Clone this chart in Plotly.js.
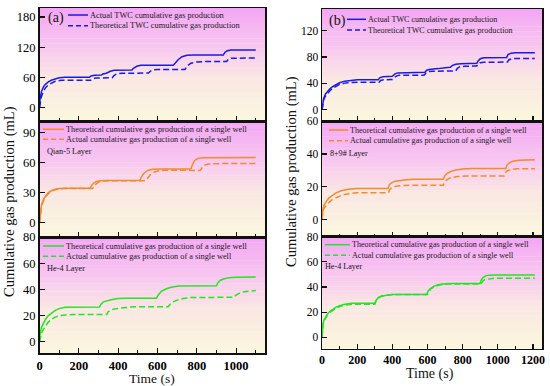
<!DOCTYPE html>
<html><head><meta charset="utf-8">
<script src="https://cdn.plot.ly/plotly-3.0.1.min.js"></script>
<style>html,body{margin:0;padding:0;background:#fff}#chart{width:550px;height:386px}</style>
</head><body><div id="chart"></div>
<script>
// ---------- DATA ----------
// (a) top: TWC
const tA_actualTWC = [0,3,10,20,30,45,60,80,100,130,255,262,280,315,322,340,360,380,470,478,495,515,680,690,705,725,750,780,935,943,955,975,1100];
const vA_actualTWC = [0,18,32,41,46,51,54,57,59,60,60,62.5,64,64.5,66.5,68,72,74,74.5,78,82,84,84,88,95,101,104,104.5,104.5,109.5,113,114.5,114.5];
const tA_theoTWC = [0,3,10,20,30,45,60,80,110,260,268,285,370,380,395,420,555,565,580,600,740,750,770,800,830,952,960,975,1100];
const vA_theoTWC = [0,10,22,32,39,45,48.5,52,54,54,57,58.5,59,64,67,68,68.5,72.5,75,75.5,75.5,82,88,90.5,91.2,91.5,96,98,98.5];
// (a) middle: Qian-5 Layer
const tA_q5Theo = [0,3,10,20,30,45,60,80,100,130,258,265,275,290,310,340,510,518,530,550,575,610,770,778,790,805,830,1100];
const vA_q5Theo = [0,8,17.5,23,26.5,30,31.8,33.3,34,34.3,34.3,37,39.5,41,41.8,42,42,45.5,49,52,53.3,53.5,53.5,58,62,64,64.8,65];
const tA_q5Act = [0,3,10,20,30,45,60,80,100,130,270,278,290,305,325,350,540,550,565,585,605,640,760,790,818,828,842,860,890,1100];
const vA_q5Act = [0,7,16,22,25.5,29,31.2,32.8,33.6,34,34,36.5,39,40.8,41.6,41.8,41.8,44.5,48,50.5,51.8,52.3,52.3,52,52,55,57.5,58.5,58.8,59];
// (a) bottom: He-4 Layer
const tA_h4Theo = [0,3,10,20,30,45,60,80,100,130,305,312,325,345,370,400,440,595,603,620,645,675,710,900,907,920,940,965,1000,1100];
const vA_h4Theo = [0,6,11,14.5,17,20,22,24,25.3,26.3,26.5,28.5,30.5,31.5,32.3,33,33.2,33.2,35.5,38.5,40.5,41.8,42.6,42.7,45,47,48.2,49,49.3,49.4];
const tA_h4Act = [0,3,10,20,30,45,60,80,100,130,170,342,350,365,390,420,460,520,655,663,680,700,730,770,990,998,1015,1040,1070,1100];
const vA_h4Act = [0,3,6.5,9.5,12,15,17,18.8,19.8,20.5,20.8,20.8,23,24.5,25.3,26,26.5,26.8,26.8,28.5,30.5,31.8,33,33.8,34,35.5,37,38.2,38.9,39.2];

// (b) top: TWC
const tB_actualTWC = [0,3,9,20,30,45,60,80,100,130,160,200,320,328,345,380,400,415,430,585,595,610,640,660,700,730,740,760,790,880,888,900,920,1050,1058,1075,1100,1210];
const vB_actualTWC = [0,10,17,24,28,32,35,38.5,41,43.5,44.5,45.5,45.5,48.5,50,50.5,51,54.5,56,57,60,61,61.5,62.5,64,64.5,67,69,70,70.5,74,77.5,79,79.5,84,86,86.5,86.5];
const tB_theoTWC = [0,3,9,20,30,45,60,80,100,130,170,200,325,333,350,400,410,425,440,580,590,605,630,760,770,785,810,880,888,900,920,1055,1063,1080,1100,1210];
const vB_theoTWC = [0,9,15,21,25,29,32.5,36,38.5,40.5,41.5,42,42,44.5,45.5,46,49,51.5,52.5,52.5,55.5,58,58.5,59,63,65.5,66,66.5,69.5,71.5,72,72.5,76,77.5,78,78];
// (b) middle: 8+9# Layer
const tB_89Theo = [0,2,6,12,19,30,40,60,80,110,150,200,375,382,395,415,440,480,520,690,697,710,730,760,800,850,1045,1052,1065,1085,1120,1160,1210];
const vB_89Theo = [0,4,7,8.8,10.2,12,13.2,15,16.3,17.6,18.5,19,19,21,22.4,23.3,23.8,24.3,24.6,24.6,26.5,28,29.2,30.2,30.8,31.1,31.1,33.2,34.6,35.5,36.2,36.5,36.5];
const tB_89Act = [0,2,6,12,19,30,40,60,80,110,150,200,378,385,398,420,450,500,690,697,712,735,770,820,1035,1042,1055,1075,1110,1210];
const vB_89Act = [0,3,5.5,7,8,9.5,10.5,12.3,13.5,14.8,15.8,16.3,16.4,18.3,19.5,20.3,20.7,20.9,20.9,22.8,24.5,25.6,26.2,26.5,26.5,28.5,29.8,30.5,30.9,31];
// (b) bottom: He-4 Layer
const tB_h4Theo = [0,2,6,12,20,30,45,60,80,100,130,170,300,308,320,340,370,400,595,602,615,635,660,700,740,898,905,915,930,950,980,1210];
const vB_h4Theo = [0,7,11,14,16.5,18.5,20.7,22.3,24,25.2,26.3,27,27,29.5,31.5,32.8,33.6,34,34,36.5,38.5,40.5,41.8,42.6,42.8,42.8,45.5,47.5,48.8,49.4,49.6,49.6];
const tB_h4Act = [0,2,6,12,20,30,45,60,80,100,130,170,300,308,320,340,370,400,598,606,618,630,650,680,720,905,913,925,945,970,1000,1210];
const vB_h4Act = [0,6,10,13,15.5,17.5,19.8,21.5,23.3,24.5,25.6,26.3,26.3,29,31.3,32.8,33.6,34,34,35,38.5,39.5,41,42,42.3,42.3,44.5,45.8,46.5,46.8,47,47];

const xTicksA = [0,200,400,600,800,1000];
const xTicksB = [0,200,400,600,800,1000,1200];
const nameActTWC = 'Actual TWC cumulative gas production';
const nameTheoTWC = 'Theoretical TWC cumulative gas production';
const nameTheoWell = 'Theoretical cumulative gas production of a single well';
const nameActWell = 'Actual cumulative gas production of a single well';
const layerLabels = ['Qian-5 Layer','He-4 Layer','8+9# Layer','He-4 Layer'];
const xTitle = 'Time (s)';
const yTitle = 'Cumulative gas production (mL)';

// ---------- STYLE ----------
const W = 550, H = 386;
const PX = v => v / W, PY = v => 1 - v / H;
const BLUE = '#1a1ae6', ORANGE = '#f28a2e', GREEN = '#22e622';
const DASH = '6px,3px';
const SERIF = 'Liberation Serif';

function tr(x, y, name, color, dash, xa, ya) {
  return {x, y, name, type: 'scatter', mode: 'lines', showlegend: false,
    line: {color, width: 1.5, dash: dash ? DASH : 'solid'}, xaxis: xa, yaxis: ya,
    hoverinfo: 'skip'};
}
const data = [
  tr(tA_actualTWC, vA_actualTWC, nameActTWC, BLUE, false, 'x', 'y'),
  tr(tA_theoTWC, vA_theoTWC, nameTheoTWC, BLUE, true, 'x', 'y'),
  tr(tA_q5Theo, vA_q5Theo, nameTheoWell, ORANGE, false, 'x2', 'y2'),
  tr(tA_q5Act, vA_q5Act, nameActWell, ORANGE, true, 'x2', 'y2'),
  tr(tA_h4Theo, vA_h4Theo, nameTheoWell, GREEN, false, 'x3', 'y3'),
  tr(tA_h4Act, vA_h4Act, nameActWell, GREEN, true, 'x3', 'y3'),
  tr(tB_actualTWC, vB_actualTWC, nameActTWC, BLUE, false, 'x4', 'y4'),
  tr(tB_theoTWC, vB_theoTWC, nameTheoTWC, BLUE, true, 'x4', 'y4'),
  tr(tB_89Theo, vB_89Theo, nameTheoWell, ORANGE, false, 'x5', 'y5'),
  tr(tB_89Act, vB_89Act, nameActWell, ORANGE, true, 'x5', 'y5'),
  tr(tB_h4Theo, vB_h4Theo, nameTheoWell, GREEN, false, 'x6', 'y6'),
  tr(tB_h4Act, vB_h4Act, nameActWell, GREEN, true, 'x6', 'y6'),
];

function xax(domain, anchor, range, ticks, labels, fs) {
  return {domain, anchor, range, tickmode: 'array', tickvals: ticks, ticktext: ticks.map(String),
    showticklabels: labels, showgrid: false, zeroline: false, showline: true, linecolor: '#111',
    linewidth: 1.5, mirror: true, ticks: 'inside', ticklen: 5, tickwidth: 1.2, tickcolor: '#111',
    minor: {dtick: 100, tick0: 0, ticks: 'inside', ticklen: 3, tickcolor: '#111', tickwidth: 1},
    tickfont: {family: SERIF, size: fs, color: '#000', weight: 'bold'}, fixedrange: true};
}
function yax(domain, anchor, range, dtick, fs) {
  return {domain, anchor, range, dtick, tick0: 0, showgrid: false, zeroline: false, showline: true,
    linecolor: '#111', linewidth: 1.5, mirror: true, ticks: 'inside', ticklen: 5, tickwidth: 1.2,
    tickcolor: '#111', tickfont: {family: SERIF, size: fs, color: '#000'}, fixedrange: true};
}
const xL = [PX(39.5), PX(265)], xR = [PX(322), PX(542)];
const layout = {
  width: W, height: H, margin: {l: 0, r: 0, t: 0, b: 0}, paper_bgcolor: '#fff', plot_bgcolor: 'rgba(0,0,0,0)',
  showlegend: false, font: {family: SERIF},
  xaxis: xax(xL, 'y', [0, 1147], xTicksA, false, 12.5),
  xaxis2: xax(xL, 'y2', [0, 1147], xTicksA, false, 12.5),
  xaxis3: xax(xL, 'y3', [0, 1147], xTicksA, true, 12.5),
  xaxis4: xax(xR, 'y4', [0, 1251], xTicksB, false, 12),
  xaxis5: xax(xR, 'y5', [0, 1251], xTicksB, false, 12),
  xaxis6: xax(xR, 'y6', [0, 1251], xTicksB, true, 12),
  yaxis: yax([PY(121), PY(8)], 'x', [-27, 198], 60, 12.5),
  yaxis2: yax([PY(237), PY(121)], 'x2', [-14.3, 101.3], 30, 12.5),
  yaxis3: yax([PY(353), PY(237)], 'x3', [-8.6, 80.05], 20, 12.5),
  yaxis4: yax([PY(121), PY(9)], 'x4', [-17, 153], 40, 11.5),
  yaxis5: yax([PY(236.5), PY(121)], 'x5', [-10.3, 60.05], 20, 11.5),
  yaxis6: yax([PY(348.5), PY(236.5)], 'x6', [-8.8, 80.05], 20, 11.5),
  shapes: [], annotations: []
};

// gradient backgrounds
const stops = [[0, [243,166,243]], [0.35, [248,200,240]], [0.62, [250,231,227]], [1, [251,247,222]]];
function gcol(f) {
  for (let i = 0; i < stops.length - 1; i++) {
    const [a, ca] = stops[i], [b, cb] = stops[i + 1];
    if (f <= b) { const u = (f - a) / (b - a);
      return 'rgb(' + ca.map((c, k) => Math.round(c + (cb[k] - c) * u)).join(',') + ')'; }
  }
  return 'rgb(251,247,222)';
}
const N = 45;
['', '2', '3', '4', '5', '6'].forEach(p => {
  for (let i = 0; i < N; i++) {
    layout.shapes.push({type: 'rect', xref: 'x' + p + ' domain', yref: 'y' + p + ' domain',
      x0: 0, x1: 1, y1: 1 - i / N, y0: Math.max(0, 1 - (i + 1) / N - 0.004),
      fillcolor: gcol((i + 0.5) / N), line: {width: 0}, layer: 'below'});
  }
});

// legends (samples + text)
function legItem(x0, x1, py, color, dash, text, fs) {
  layout.shapes.push({type: 'line', xref: 'paper', yref: 'paper', x0: PX(x0), x1: PX(x1), y0: PY(py), y1: PY(py),
    line: {color, width: 1.5, dash: dash ? '5px,3px' : 'solid'}});
  layout.annotations.push({xref: 'paper', yref: 'paper', x: PX(x1 + 1), y: PY(py), xanchor: 'left', yanchor: 'middle',
    text, showarrow: false, borderpad: 0, font: {family: SERIF, size: fs, color: '#1a1a1a'}});
}
function txt(px, py, text, fs, anchor, angle) {
  layout.annotations.push({xref: 'paper', yref: 'paper', x: PX(px), y: PY(py), xanchor: anchor || 'left', yanchor: 'middle',
    text, showarrow: false, borderpad: 0, textangle: angle || 0, font: {family: SERIF, size: fs, color: '#111'}});
}
legItem(68, 88, 15, BLUE, false, nameActTWC, 8.4);
legItem(68, 88, 25.7, BLUE, true, nameTheoTWC, 8.4);
txt(47, 18.5, '(a)', 14);
legItem(43, 64, 129.3, ORANGE, false, nameTheoWell, 8.3);
legItem(43, 64, 139.3, ORANGE, true, nameActWell, 8.3);
txt(46, 151.5, layerLabels[0], 8.3);
legItem(43, 64, 246, GREEN, false, nameTheoWell, 8.3);
legItem(43, 64, 256.3, GREEN, true, nameActWell, 8.3);
txt(46, 268, layerLabels[1], 8.3);

legItem(347, 366, 19.3, BLUE, false, nameActTWC, 8.1);
legItem(347, 366, 30, BLUE, true, nameTheoTWC, 8.1);
txt(328, 21, '(b)', 14);
legItem(329, 348, 130, ORANGE, false, nameTheoWell, 8.1);
legItem(329, 348, 140.7, ORANGE, true, nameActWell, 8.1);
txt(328.7, 153.3, layerLabels[2], 8.1);
legItem(325, 350, 244.7, GREEN, false, nameTheoWell, 8.1);
legItem(325, 350, 255.3, GREEN, true, nameActWell, 8.1);
txt(324, 266, layerLabels[3], 8.1);

// axis titles
txt(152, 378.3, xTitle, 13.5, 'center');
txt(430, 373.5, xTitle, 14, 'center');
txt(9, 202, yTitle, 14.5, 'center', -90);
txt(291, 172, yTitle, 14.5, 'center', -90);

Plotly.newPlot('chart', data, layout, {staticPlot: true, displayModeBar: false});
</script></body></html>
